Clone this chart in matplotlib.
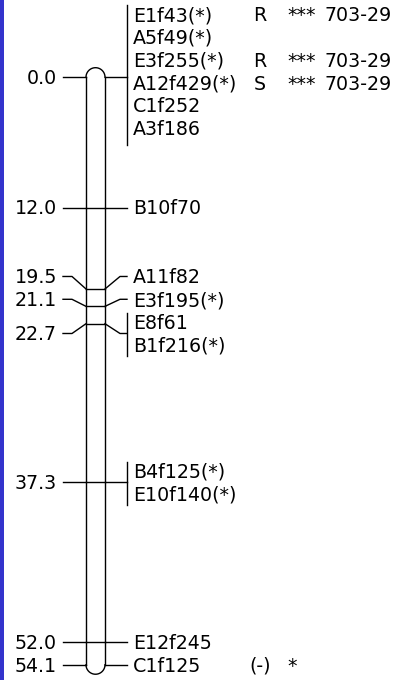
"""Linkage group drawing (chromosome bar with marker positions in cM)."""

import matplotlib
matplotlib.use("Agg")
import matplotlib.pyplot as plt
import numpy as np

# marker data (cM position, name, extra columns)
marker_pos = [0.0, 0.0, 0.0, 0.0, 0.0, 0.0, 12.0, 19.5, 21.1, 22.7, 22.7,
              37.3, 37.3, 52.0, 54.1]
marker_names = ["E1f43(*)", "A5f49(*)", "E3f255(*)", "A12f429(*)", "C1f252",
                "A3f186", "B10f70", "A11f82", "E3f195(*)", "E8f61",
                "B1f216(*)", "B4f125(*)", "E10f140(*)", "E12f245", "C1f125"]
marker_allele = ["R", "", "R", "S", "", "", "", "", "", "", "", "", "", "",
                 "(-)"]
marker_signif = ["***", "", "***", "***", "", "", "", "", "", "", "", "", "",
                 "", "*"]
marker_source = ["703-29", "", "703-29", "703-29", "", "", "", "", "", "", "",
                 "", "", "", ""]

# layout (pixels horizontally, cM vertically)
PX_PER_CM = 10.86
Y0_PX = 77.2
W, H = 396, 680
SPACING = 2.1          # label spacing in cM
TOP_SHIFT = 0.55       # the first label block sits a little higher
BAR_L, BAR_R = 86, 105
LEFT_LINE, LEFT_BEND = 63, 72
RIGHT_BEND, BRACKET = 120, 127
FS = 13.7
CAP = 0.729            # cap height of the font, in em
COLOR = "black"

plt.rcParams["font.family"] = ["DejaVu Sans"]


def px_to_cm(y_px):
    return (y_px - Y0_PX) / PX_PER_CM


# group markers by position
groups = []
for p in marker_pos:
    if not groups or groups[-1][0] != p:
        groups.append([p, 0])
    groups[-1][1] += 1

# spread labels so they do not overlap
blocks = [{"sum": p * n, "count": n, "groups": [(p, n)]} for p, n in groups]
merged = True
while merged:
    merged = False
    for i in range(len(blocks) - 1):
        a, b = blocks[i], blocks[i + 1]
        ca = a["sum"] / a["count"]
        cb = b["sum"] / b["count"]
        last_a = ca + (a["count"] - 1) / 2 * SPACING
        first_b = cb - (b["count"] - 1) / 2 * SPACING
        if first_b - last_a < SPACING - 1e-9:
            blocks[i] = {"sum": a["sum"] + b["sum"],
                         "count": a["count"] + b["count"],
                         "groups": a["groups"] + b["groups"]}
            del blocks[i + 1]
            merged = True
            break

label_y = []
text_shift = []
group_centre = []
for bi, blk in enumerate(blocks):
    c = blk["sum"] / blk["count"]
    start = c - (blk["count"] - 1) / 2 * SPACING
    k = 0
    for p, n in blk["groups"]:
        ys = [start + (k + j) * SPACING for j in range(n)]
        label_y.extend(ys)
        text_shift.extend([TOP_SHIFT if bi == 0 else 0.0] * n)
        group_centre.append(np.mean(ys))
        k += n

fig = plt.figure(figsize=(W / 100, H / 100), dpi=100)
ax = fig.add_axes([0, 0, 1, 1])
ax.set_xlim(0, W)
ax.set_ylim(px_to_cm(H), px_to_cm(0))
ax.axis("off")

# blue strip on the left edge
ax.axvspan(0, 4, color="#3333cc", lw=0)

lw = 1.0
top, bottom = min(marker_pos), max(marker_pos)

# chromosome bar
ax.plot([BAR_L, BAR_L], [top, bottom], color=COLOR, lw=lw)
ax.plot([BAR_R, BAR_R], [top, bottom], color=COLOR, lw=lw)
r = (BAR_R - BAR_L) / 2
t = np.linspace(0, np.pi, 60)
ax.plot(BAR_L + r + r * np.cos(t), top - r / PX_PER_CM * np.sin(t),
        color=COLOR, lw=lw)
ax.plot(BAR_L + r + r * np.cos(t), bottom + r / PX_PER_CM * np.sin(t),
        color=COLOR, lw=lw)

cap_shift = CAP * FS * 100 / 72 / 2 / PX_PER_CM

for (p, n), lc in zip(groups, group_centre):
    # left side
    ax.plot([LEFT_LINE, LEFT_BEND, BAR_L], [lc, lc, p], color=COLOR, lw=lw)
    ax.text(57, lc + cap_shift, f"{p:.1f}", ha="right", va="baseline",
            fontsize=FS, color=COLOR)
    # across the bar (not at the ends)
    if top < p < bottom:
        ax.plot([BAR_L, BAR_R], [p, p], color=COLOR, lw=lw)
    # right side
    ax.plot([BAR_R, RIGHT_BEND, BRACKET], [p, lc, lc], color=COLOR, lw=lw)

# brackets for groups with several names
k = 0
for p, n in groups:
    if n > 1:
        ax.plot([BRACKET, BRACKET],
                [label_y[k] - text_shift[k] - 0.85, label_y[k + n - 1] + 1.0],
                color=COLOR, lw=lw)
    k += n

# marker labels
for y, dy, name, al, sg, src in zip(label_y, text_shift, marker_names,
                                    marker_allele, marker_signif,
                                    marker_source):
    yb = y - dy + cap_shift
    ax.text(133, yb, name, ha="left", va="baseline", fontsize=FS,
            color=COLOR)
    if al:
        ax.text(260, yb, al, ha="center", va="baseline", fontsize=FS,
                color=COLOR)
    if sg:
        ax.text(287, yb, sg, ha="left", va="baseline", fontsize=FS,
                color=COLOR)
    if src:
        ax.text(325, yb, src, ha="left", va="baseline", fontsize=FS,
                color=COLOR)

fig.savefig("out.png", dpi=100)
